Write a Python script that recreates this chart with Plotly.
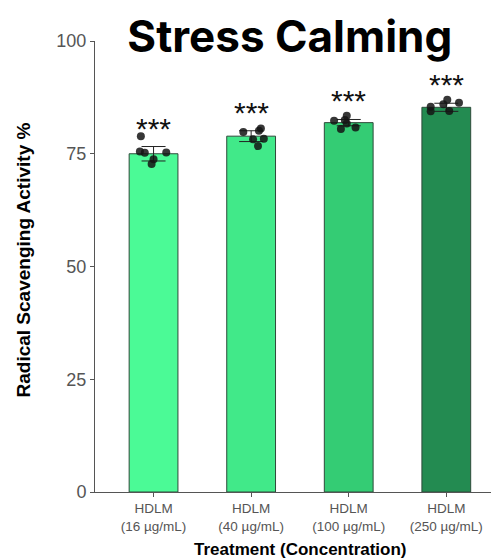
import plotly.graph_objects as go

categories = ["HDLM<br>(16 µg/mL)", "HDLM<br>(40 µg/mL)", "HDLM<br>(100 µg/mL)", "HDLM<br>(250 µg/mL)"]
means = [75.0, 78.9, 81.9, 85.3]
errors = [1.6, 1.2, 0.7, 0.9]
significance = ["***", "***", "***", "***"]
bar_colors = ["#4BFA96", "#41E989", "#34CC74", "#238B51"]

replicates = [
    [78.9, 75.5, 75.2, 73.8, 72.7, 75.3],
    [79.8, 80.6, 80.1, 78.2, 78.3, 76.7],
    [82.3, 83.4, 82.5, 80.5, 80.8, 81.7],
    [85.4, 87.0, 86.3, 84.4, 84.5, 86.0],
]
jitter = [
    [-0.13, -0.14, -0.09, 0.0, -0.02, 0.13],
    [-0.08, 0.10, 0.08, 0.02, 0.13, 0.07],
    [-0.15, -0.02, -0.04, -0.08, 0.07, -0.02],
    [-0.16, 0.01, 0.13, -0.16, 0.03, -0.03],
]

xs = list(range(1, len(categories) + 1))

fig = go.Figure()
fig.add_trace(go.Bar(
    x=xs, y=means, width=0.5,
    marker=dict(color=bar_colors, line=dict(color="#2E4A3A", width=1)),
    showlegend=False, hoverinfo="skip",
))
fig.add_trace(go.Scatter(
    x=xs, y=means, mode="markers",
    marker=dict(size=0.1, color="rgba(0,0,0,0)"),
    error_y=dict(type="data", array=errors, color="#222222", thickness=1, width=12),
    showlegend=False, hoverinfo="skip",
))
px, py = [], []
for i, (vals, jit) in enumerate(zip(replicates, jitter)):
    for v, j in zip(vals, jit):
        px.append(xs[i] + j)
        py.append(v)
fig.add_trace(go.Scatter(
    x=px, y=py, mode="markers",
    marker=dict(size=8, color="rgba(20,20,20,0.85)", line=dict(width=0)),
    showlegend=False, hoverinfo="skip",
))

for x, m, e, s in zip(xs, means, errors, significance):
    fig.add_annotation(x=x, y=m + e, text=s, showarrow=False, yanchor="bottom",
                       yshift=0, font=dict(family="Liberation Sans, Arial", size=30, color="#111111"))

# axis titles as annotations for precise placement
fig.add_annotation(xref="paper", yref="paper", x=0.5, y=0, xshift=3, yshift=-57,
                   xanchor="center", yanchor="middle", showarrow=False,
                   text="<b>Treatment (Concentration)</b>",
                   font=dict(family="Liberation Sans, Arial", size=17, color="#000000"))
fig.add_annotation(xref="paper", yref="paper", x=0, y=0.5, xshift=-72, yshift=6,
                   xanchor="center", yanchor="middle", showarrow=False, textangle=-90,
                   text="<b>Radical Scavenging Activity %</b>",
                   font=dict(family="Liberation Sans, Arial", size=19, color="#000000"))

fig.update_layout(
    width=491, height=552,
    margin=dict(l=87, r=0, t=33, b=68),
    plot_bgcolor="white", paper_bgcolor="white",
    font=dict(family="Liberation Sans, Arial"),
    title=dict(text="<b>Stress Calming</b>", x=0.574, xanchor="center", y=0.976, yanchor="top",
               font=dict(family="Inter, Noto Sans", size=44, color="#000000")),
    xaxis=dict(
        range=[0.4, 4.54], tickmode="array", tickvals=xs, ticktext=categories,
        showline=True, linecolor="#555555", linewidth=1,
        ticks="outside", ticklen=4, tickcolor="#555555",
        tickfont=dict(size=13.5, color="#555555"), showgrid=False, zeroline=False,
    ),
    yaxis=dict(
        range=[0, 100], tickvals=[0, 25, 50, 75, 100],
        showline=True, linecolor="#555555", linewidth=1,
        ticks="outside", ticklen=4, tickcolor="#555555",
        tickfont=dict(size=18, color="#555555"), showgrid=False, zeroline=False,
    ),
)

fig.write_html("out.html")
